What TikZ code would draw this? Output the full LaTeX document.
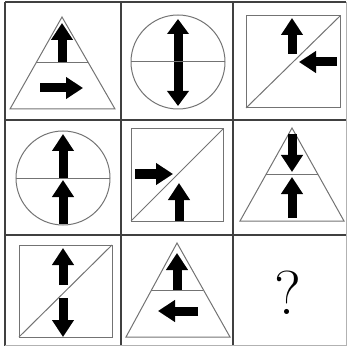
\documentclass[tikz,border=0pt]{standalone}
\usetikzlibrary{arrows.meta}

\tikzset{
	gridline/.style={
			draw=black!75,
			line width=2pt
		},
	figline/.style={
			draw=black!55,
			line width=1pt
		},
	fatarrow/.style={
			line width=9pt,
			-{Triangle[length=17pt,width=21pt]}
		},
	fatboth/.style={
			line width=9pt,
			{Triangle[length=15pt,width=21pt]}-{Triangle[length=15pt,width=21pt]}
		}
}

\begin{document}
\begin{tikzpicture}[x=1pt, y=-1pt]
				\useasboundingbox (0,0) rectangle (347,347);

				% grid
				\draw[gridline] (5,2) -- (346,2);
				\draw[gridline] (5,120) -- (346,120);
				\draw[gridline] (5,235) -- (346,235);
				\draw[gridline] (5,2) -- (5,346);
				\draw[gridline] (121,2) -- (121,346);
				\draw[gridline] (233,2) -- (233,346);
				\draw[figline, black!30] (5,345) -- (346,345) -- (346,2);

				% row 1
				\draw[figline] (62,17) -- (10,109) -- (115,109) -- cycle;
				\draw[fatarrow] (62,63) -- (62,23);
				\draw[figline] (36,63) -- (88,63);
				\draw[fatarrow] (40,88) -- (83,88);

				\draw[fatboth] (178,106) -- (178,19);
				\draw[figline] (178,62) circle (47);
				\draw[figline] (131,62) -- (225,62);

				\draw[figline] (246,16) rectangle (340,108);
				\draw[figline] (246,108) -- (340,16);
				\draw[fatarrow] (292,54) -- (292,18);
				\draw[fatarrow] (337,62) -- (299,62);

				% row 2
				\draw[fatarrow] (63,178) -- (63,134);
				\draw[fatarrow] (63,224) -- (63,180);
				\draw[figline] (63,178) circle (47);
				\draw[figline] (16,178) -- (110,178);

				\draw[figline] (131,129) rectangle (223,221);
				\draw[figline] (131,221) -- (223,129);
				\draw[fatarrow] (135,174) -- (173,174);
				\draw[fatarrow] (179,221) -- (179,183);

				\draw[figline] (292,128) -- (240,221) -- (344,221) -- cycle;
				\draw[fatarrow] (292,134) -- (292,172);
				\draw[fatarrow] (292,218) -- (292,177);
				\draw[figline] (266,174) -- (318,174);

				% row 3
				\draw[figline] (19,245) rectangle (112,337);
				\draw[figline] (19,337) -- (112,245);
				\draw[fatarrow] (63,285) -- (63,248);
				\draw[fatarrow] (63,298) -- (63,337);

				\draw[figline] (177,243) -- (126,337) -- (230,337) -- cycle;
				\draw[fatarrow] (177,290) -- (177,253);
				\draw[figline] (151,290) -- (203,290);
				\draw[fatarrow] (198,311) -- (158,311);

				\node (q) at (288,293) {\fontsize{62}{62}\selectfont ?};
			\end{tikzpicture}
\end{document}
